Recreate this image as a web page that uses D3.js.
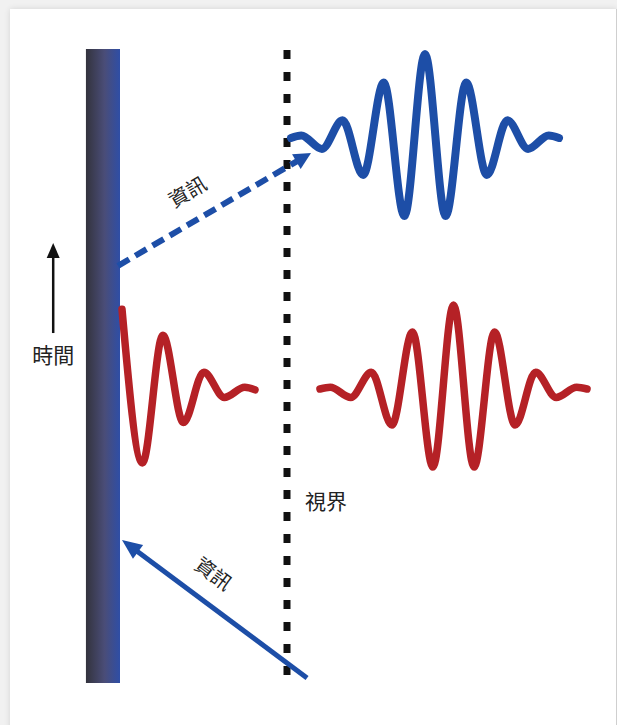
<!DOCTYPE html>
<html>
<head>
<meta charset="utf-8">
<script src="https://cdn.jsdelivr.net/npm/d3@7"></script>
<style>
  html, body { margin: 0; padding: 0; background: #f1f1f1; }
  #card { position: absolute; left: 10px; top: 9px; width: 606px; height: 730px; background: #fff;
          box-shadow: 0 0 6px rgba(0,0,0,0.12); border-right: 1px solid #cfcfcf; }
  svg { position: absolute; left: 0; top: 0; }
  text { font-family: "Noto Sans CJK TC", "Noto Sans CJK SC", sans-serif; fill: #222; }
</style>
</head>
<body>
<div id="card"></div>
<svg id="chart" width="617" height="725"></svg>
<script>
// ---------- data (diagram units) ----------
// space: 0 = surface of the wall, 1 = horizon; time: 0 = bottom, 1 = top
const wallSpan = [-0.204, 0];
const horizonX = 1;
const timeSpan = [0, 1];
// information arrows [x, t]
const infoOut = [[-0.012, 0.658], [1.144, 0.836]];   // dashed, wall -> horizon
const infoIn  = [[1.12, 0.008], [0.012, 0.2256]];    // solid, horizon -> wall
const timeArrow = [[-0.40, 0.552], [-0.40, 0.694]];
const labels = ["資訊", "資訊", "時間", "視界"];

// wave packets: extremum positions (half periods) and amplitudes
const blueT = [-6.5, -6, -5, -4, -3, -2, -1, 0, 1, 2, 3, 4, 5, 6, 6.5];
const blueA = [0, 0.03, -0.13, 0.21, -0.44, 0.66, -0.93, 1, -0.93, 0.66, -0.44, 0.21, -0.13, 0.03, 0];
const redT  = [-6.5, -6, -5, -4, -3, -2, -1, 0, 1, 2, 3, 4, 5, 6, 6.5];
const redA  = [0, 0.02, -0.1, 0.2, -0.43, 0.68, -0.93, 1, -0.93, 0.68, -0.43, 0.2, -0.1, 0.02, 0];
const reflT = [0, 1, 2, 3, 4, 5, 6, 6.5];
const reflA = [0.95, -0.88, 0.64, -0.40, 0.2, -0.1, 0.02, -0.01];

// ---------- scales ----------
const svg = d3.select("#chart");
const x = d3.scaleLinear().domain([0, 1]).range([120, 287]);
const y = d3.scaleLinear().domain([0, 1]).range([683, 49]);

const bx = d3.scaleLinear().domain([-6.5, 6.5]).range([291, 559]);
const by = d3.scaleLinear().domain([-1, 1]).range([222, 54]);
const rx = d3.scaleLinear().domain([-6.5, 6.5]).range([320, 587]);
const ry = d3.scaleLinear().domain([-1, 1]).range([473, 305]);
const lx = d3.scaleLinear().domain([0, 6.5]).range([122, 255]);

// ---------- defs ----------
const defs = svg.append("defs");
const g = defs.append("linearGradient").attr("id", "wallGrad").attr("x1", 0).attr("x2", 1).attr("y1", 0).attr("y2", 0);
g.append("stop").attr("offset", 0).attr("stop-color", "#33333d");
g.append("stop").attr("offset", 0.55).attr("stop-color", "#4a4d78");
g.append("stop").attr("offset", 1).attr("stop-color", "#2f4ea6");

// ---------- wall ----------
svg.append("rect")
  .attr("x", x(wallSpan[0])).attr("y", y(timeSpan[1]))
  .attr("width", x(wallSpan[1]) - x(wallSpan[0]))
  .attr("height", y(timeSpan[0]) - y(timeSpan[1]))
  .attr("fill", "url(#wallGrad)");

// ---------- horizon ----------
svg.append("line")
  .attr("x1", x(horizonX)).attr("x2", x(horizonX))
  .attr("y1", y(timeSpan[1]) + 1).attr("y2", y(timeSpan[0]))
  .attr("stroke", "#111").attr("stroke-width", 7)
  .attr("stroke-dasharray", "9 13");

// ---------- waves ----------
function wave(T, A, sx, sy, color, w) {
  const line = d3.line().x(d => sx(d[0])).y(d => sy(d[1])).curve(d3.curveMonotoneX);
  svg.append("path").attr("d", line(d3.zip(T, A)))
    .attr("fill", "none").attr("stroke", color).attr("stroke-width", w)
    .attr("stroke-linecap", "round").attr("stroke-linejoin", "round");
}
wave(reflT, reflA, lx, ry, "#b52126", 7.5);
wave(redT, redA, rx, ry, "#b52126", 7.5);
wave(blueT, blueA, bx, by, "#1d4ea7", 8);

// ---------- arrows ----------
function arrow(pts, color, width, dash, headLen, headW) {
  const [p0, p1] = pts.map(p => [x(p[0]), y(p[1])]);
  const dx = p1[0] - p0[0], dy = p1[1] - p0[1];
  const L = Math.hypot(dx, dy), ux = dx / L, uy = dy / L;
  const base = [p1[0] - ux * headLen, p1[1] - uy * headLen];
  svg.append("line")
    .attr("x1", p0[0]).attr("y1", p0[1])
    .attr("x2", base[0] + ux * 2).attr("y2", base[1] + uy * 2)
    .attr("stroke", color).attr("stroke-width", width)
    .attr("stroke-dasharray", dash || null);
  const nx = -uy, ny = ux;
  svg.append("path")
    .attr("d", d3.line()([
      p1,
      [base[0] + nx * headW / 2, base[1] + ny * headW / 2],
      [base[0] - nx * headW / 2, base[1] - ny * headW / 2]
    ]) + "Z")
    .attr("fill", color);
}
arrow(infoOut, "#1d4ea7", 6, "13 7", 17, 17);
arrow(infoIn, "#1d4ea7", 5, null, 20, 17);
arrow(timeArrow, "#111", 2.5, null, 15, 13);

// ---------- labels ----------
function angleOf(pts) {
  const [p0, p1] = pts.map(p => [x(p[0]), y(p[1])]);
  return Math.atan2(p1[1] - p0[1], p1[0] - p0[0]) * 180 / Math.PI;
}
const aOut = angleOf(infoOut);
const aIn = angleOf(infoIn) + 180;
svg.append("text").text(labels[0])
  .attr("transform", `translate(187,191) rotate(${aOut})`)
  .attr("text-anchor", "middle").attr("dominant-baseline", "central")
  .attr("font-size", 20);
svg.append("text").text(labels[1])
  .attr("transform", `translate(214,573) rotate(${aIn})`)
  .attr("text-anchor", "middle").attr("dominant-baseline", "central")
  .attr("font-size", 20);
svg.append("text").text(labels[2])
  .attr("x", x(timeArrow[0][0])).attr("y", 354)
  .attr("text-anchor", "middle").attr("dominant-baseline", "central")
  .attr("font-size", 21);
svg.append("text").text(labels[3])
  .attr("x", x(horizonX) + 18).attr("y", 500)
  .attr("dominant-baseline", "central")
  .attr("font-size", 21);
</script>
</body>
</html>
